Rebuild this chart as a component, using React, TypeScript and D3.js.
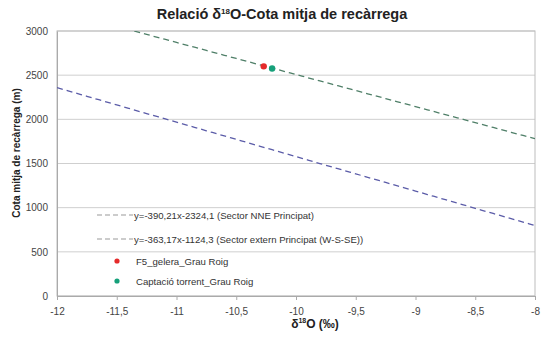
import React, { useEffect, useRef } from 'react'
import * as d3 from 'd3'

const xTicks = [-12, -11.5, -11, -10.5, -10, -9.5, -9, -8.5, -8]
const yTicks = [0, 500, 1000, 1500, 2000, 2500, 3000]

// regression lines: y = slope * x + intercept
const lineNames = ['y=-390,21x-2324,1 (Sector NNE Principat)', 'y=-363,17x-1124,3 (Sector extern Principat (W-S-SE))']
const lineSlopes = [-390.21, -363.17]
const lineIntercepts = [-2324.1, -1124.3]
const lineColors = ['#5b5ca8', '#4f7f68']

const pointNames = ['F5_gelera_Grau Roig', 'Captació torrent_Grau Roig']
const pointX = [-10.27, -10.2]
const pointY = [2600, 2575]
const pointColors = ['#e52b2b', '#16a07a']

const width = 545
const height = 338
const margin = { left: 57, right: 10, top: 31, bottom: 42 }

function fmt(v: number) {
    return String(v).replace('.', ',')
}

export default function App() {
    const svgRef = useRef<SVGSVGElement>(null)

    useEffect(() => {
        const svg = d3.select(svgRef.current)
        svg.selectAll('*').remove()

        const x = d3.scaleLinear().domain([-12, -8]).range([margin.left, width - margin.right])
        const y = d3.scaleLinear().domain([0, 3000]).range([height - margin.bottom, margin.top])
        const font = 'Liberation Sans, Arial, sans-serif'

        svg.append('text')
            .attr('x', 282).attr('y', 19)
            .attr('text-anchor', 'middle')
            .attr('font-family', font).attr('font-weight', 'bold').attr('font-size', 14.5)
            .attr('fill', '#222')
            .call(t => {
                t.append('tspan').text('Relació δ')
                t.append('tspan').text('18').attr('font-size', 8).attr('dy', -5)
                t.append('tspan').text('O-Cota mitja de recàrrega').attr('dy', 5)
            })

        // grid
        svg.append('g').selectAll('line').data(yTicks).join('line')
            .attr('x1', x(-12)).attr('x2', x(-8))
            .attr('y1', d => y(d)).attr('y2', d => y(d))
            .attr('stroke', '#cfcfcf').attr('stroke-width', 1)

        // frame
        svg.append('rect')
            .attr('x', x(-12)).attr('y', y(3000))
            .attr('width', x(-8) - x(-12)).attr('height', y(0) - y(3000))
            .attr('fill', 'none').attr('stroke', '#bdbdbd')

        const xAxis = d3.axisBottom(x).tickValues(xTicks).tickFormat(d => fmt(d as number)).tickSize(4).tickPadding(8)
        const gx = svg.append('g').attr('transform', `translate(0,${y(0)})`).call(xAxis)
        const yAxis = d3.axisLeft(y).tickValues(yTicks).tickFormat(d => String(d)).tickSize(0).tickPadding(9)
        const gy = svg.append('g').attr('transform', `translate(${x(-12)},0)`).call(yAxis)
        for (const g of [gx, gy]) {
            g.select('.domain').attr('stroke', '#aaa')
            g.selectAll('.tick line').attr('stroke', '#aaa')
            g.selectAll('.tick text').attr('font-family', font).attr('font-size', 10).attr('fill', '#444')
        }

        // regression lines, clipped to plot area
        svg.append('clipPath').attr('id', 'plotclip').append('rect')
            .attr('x', x(-12)).attr('y', y(3000))
            .attr('width', x(-8) - x(-12)).attr('height', y(0) - y(3000))
        const xs = d3.range(-12, -7.99, 0.05)
        const line = d3.line<number>().x(d => x(d))
        lineSlopes.forEach((s, i) => {
            svg.append('path')
                .attr('clip-path', 'url(#plotclip)')
                .attr('d', line.y(d => y(s * d + lineIntercepts[i]))(xs))
                .attr('fill', 'none').attr('stroke', lineColors[i])
                .attr('stroke-width', 1.3).attr('stroke-dasharray', '6,4')
        })

        svg.append('g').selectAll('circle').data(pointX).join('circle')
            .attr('cx', d => x(d)).attr('cy', (d, i) => y(pointY[i]))
            .attr('r', 3.2).attr('fill', (d, i) => pointColors[i])

        // legend
        const lg = svg.append('g').attr('font-family', font).attr('font-size', 9.6).attr('fill', '#333')
        lineNames.forEach((n, i) => {
            const ly = 215 + i * 24
            lg.append('line').attr('x1', 97).attr('x2', 133).attr('y1', ly).attr('y2', ly)
                .attr('stroke', '#9a9a9a').attr('stroke-width', 1.2).attr('stroke-dasharray', '5,3')
            lg.append('text').attr('x', 134).attr('y', ly + 3.5).text(n)
        })
        pointNames.forEach((n, i) => {
            const ly = 261 + i * 20
            lg.append('circle').attr('cx', 117).attr('cy', ly).attr('r', 2.6).attr('fill', pointColors[i])
            lg.append('text').attr('x', 136).attr('y', ly + 3.5).text(n)
        })

        // axis titles
        svg.append('text')
            .attr('transform', `translate(20,153) rotate(-90)`)
            .attr('text-anchor', 'middle')
            .attr('font-family', font).attr('font-weight', 'bold').attr('font-size', 10).attr('fill', '#222')
            .text('Cota mitja de recàrrega (m)')
        svg.append('text')
            .attr('x', 315).attr('y', 328)
            .attr('text-anchor', 'middle')
            .attr('font-family', font).attr('font-weight', 'bold').attr('font-size', 12).attr('fill', '#222')
            .call(t => {
                t.append('tspan').text('δ')
                t.append('tspan').text('18').attr('font-size', 7).attr('dy', -5)
                t.append('tspan').text('O (‰)').attr('dy', 5)
            })
    }, [])

    return (
        <div style={{ position: 'absolute', left: 0, top: 0 }}>
            <svg ref={svgRef} width={width} height={height} style={{ display: 'block', background: '#fff' }} />
        </div>
    )
}
